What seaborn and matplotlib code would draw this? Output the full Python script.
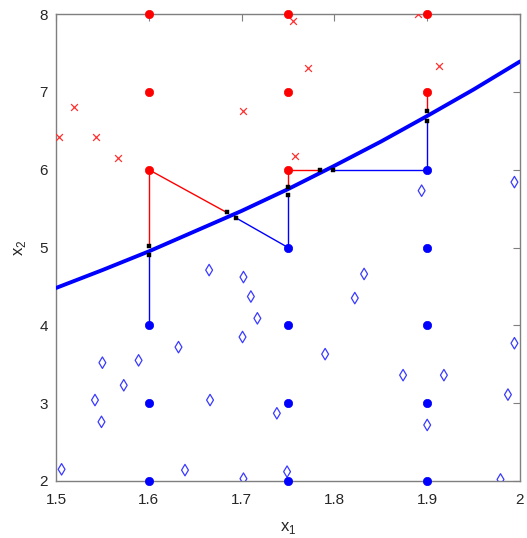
import numpy as np
import pandas as pd
import matplotlib
matplotlib.use("Agg")
import matplotlib.pyplot as plt
import seaborn as sns

# ---- data ----
red_dot_x = [1.6, 1.6, 1.6, 1.75, 1.75, 1.75, 1.9, 1.9]
red_dot_y = [8, 7, 6, 8, 7, 6, 8, 7]

blue_dot_x = [1.6, 1.6, 1.6, 1.75, 1.75, 1.75, 1.75, 1.9, 1.9, 1.9, 1.9, 1.9]
blue_dot_y = [4, 3, 2, 5, 4, 3, 2, 6, 5, 4, 3, 2]

red_x_x = [1.503, 1.519, 1.543, 1.567, 1.701, 1.755, 1.772, 1.890, 1.913, 1.758]
red_x_y = [6.42, 6.80, 6.42, 6.15, 6.75, 7.91, 7.31, 8.00, 7.33, 6.17]

diamond_x = [1.665, 1.702, 1.710, 1.717, 1.701, 1.632, 1.589, 1.550, 1.573, 1.542,
             1.666, 1.549, 1.506, 1.639, 1.702, 1.832, 1.822, 1.790, 1.874, 1.918,
             1.994, 1.987, 1.738, 1.900, 1.749, 1.979, 1.894, 1.994]
diamond_y = [4.71, 4.62, 4.37, 4.09, 3.85, 3.72, 3.55, 3.52, 3.23, 3.04,
             3.04, 2.76, 2.15, 2.14, 2.03, 4.66, 4.35, 3.63, 3.36, 3.36,
             3.77, 3.11, 2.87, 2.72, 2.12, 2.02, 5.73, 5.84]

curve_x = [1.50, 1.55, 1.60, 1.65, 1.70, 1.75, 1.80, 1.85, 1.90, 1.95, 2.00]
curve_y = [4.48, 4.71, 4.95, 5.21, 5.47, 5.75, 6.05, 6.36, 6.69, 7.03, 7.39]

seg_color = ["red", "red", "red", "red", "red", "blue", "blue", "blue", "blue", "blue"]
seg_x0 = [1.6, 1.6, 1.75, 1.75, 1.9, 1.6, 1.75, 1.75, 1.9, 1.9]
seg_y0 = [6, 6, 6, 6, 7, 4, 5, 5, 6, 6]
seg_x1 = [1.6, 1.684, 1.75, 1.784, 1.9, 1.6, 1.694, 1.75, 1.799, 1.9]
seg_y1 = [5.02, 5.45, 5.78, 6.00, 6.75, 4.90, 5.38, 5.68, 6.00, 6.63]

x_ticks = [1.5, 1.6, 1.7, 1.8, 1.9, 2.0]
x_tick_labels = ["1.5", "1.6", "1.7", "1.8", "1.9", "2"]
y_ticks = [2, 3, 4, 5, 6, 7, 8]

# ---- style ----
sns.set_style("white")
plt.rcParams["font.family"] = ["Liberation Sans", "DejaVu Sans"]
plt.rcParams["mathtext.fontset"] = "custom"
plt.rcParams["mathtext.rm"] = "Liberation Sans"

fig = plt.figure(figsize=(5.27, 5.38), dpi=100)
ax = fig.add_axes([56 / 527, 57 / 538, 464 / 527, 467 / 538])

RED = "#ff0000"
BLUE = "#0000ff"

# thin connecting segments
seg_rows = []
for i, (c, a0, b0, a1, b1) in enumerate(zip(seg_color, seg_x0, seg_y0, seg_x1, seg_y1)):
    seg_rows.append(dict(seg=i, c=c, x=a0, y=b0))
    seg_rows.append(dict(seg=i, c=c, x=a1, y=b1))
seg_df = pd.DataFrame(seg_rows)
sns.lineplot(data=seg_df, x="x", y="y", hue="c", units="seg", estimator=None, sort=False,
             palette={"red": RED, "blue": BLUE}, linewidth=1.0, legend=False, ax=ax, zorder=2)

# thick boundary curve
curve_df = pd.DataFrame({"x": curve_x, "y": curve_y})
sns.lineplot(data=curve_df, x="x", y="y", color=BLUE, linewidth=2.8, ax=ax, zorder=3,
             legend=False)

# markers
sns.scatterplot(x=diamond_x, y=diamond_y, marker="d", s=34, facecolors="none",
                edgecolor="#3a3aff", linewidth=0.9, ax=ax, zorder=4)
sns.scatterplot(x=red_x_x, y=red_x_y, marker="x", s=24, color="#ff3030", linewidth=0.9,
                ax=ax, zorder=4)
sns.scatterplot(x=red_dot_x, y=red_dot_y, marker="o", s=36, color=RED, edgecolor=RED,
                linewidth=0.5, ax=ax, zorder=5, clip_on=False)
sns.scatterplot(x=blue_dot_x, y=blue_dot_y, marker="o", s=36, color=BLUE, edgecolor=BLUE,
                linewidth=0.5, ax=ax, zorder=5, clip_on=False)

# black squares at segment ends
sns.scatterplot(x=seg_x1, y=seg_y1, marker="s", s=9, color="black", edgecolor="black",
                linewidth=0.3, ax=ax, zorder=6)

ax.set_xlim(1.5, 2.0)
ax.set_ylim(2, 8)
ax.set_xticks(x_ticks)
ax.set_xticklabels(x_tick_labels)
ax.set_yticks(y_ticks)

for sp in ax.spines.values():
    sp.set_color("#7f7f7f")
    sp.set_linewidth(1.0)
ax.tick_params(direction="in", length=5, width=0.8, colors="#262626", labelsize=11,
               top=True, right=True, labeltop=False, labelright=False)
ax.tick_params(axis="x", pad=9)
ax.tick_params(axis="y", pad=6)
ax.tick_params(axis="both", which="both", color="#7f7f7f")

ax.set_xlabel(r"x$_1$", fontsize=12, color="#262626", labelpad=9)
ax.set_ylabel(r"x$_2$", fontsize=12, color="#262626", labelpad=8)

fig.savefig("out.png", dpi=100)
